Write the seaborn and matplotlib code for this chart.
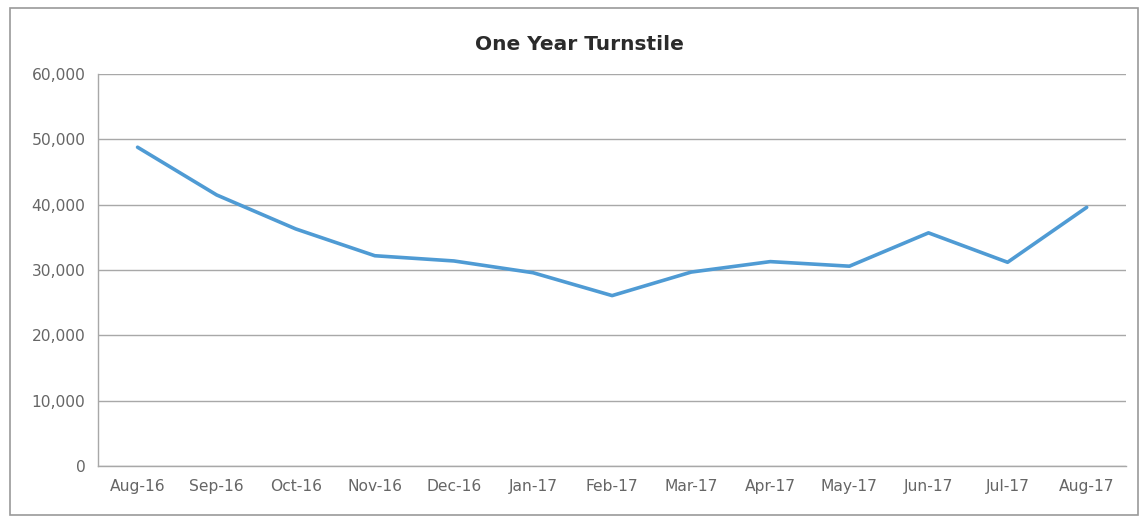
import matplotlib
matplotlib.use("Agg")
import matplotlib.pyplot as plt
import seaborn as sns
import pandas as pd
from matplotlib.patches import Rectangle
from matplotlib.ticker import FuncFormatter

months = ["Aug-16", "Sep-16", "Oct-16", "Nov-16", "Dec-16", "Jan-17", "Feb-17",
          "Mar-17", "Apr-17", "May-17", "Jun-17", "Jul-17", "Aug-17"]
turnstile = [48800, 41500, 36300, 32200, 31400, 29600, 26100,
             29700, 31300, 30600, 35700, 31200, 39600]
y_ticks = [0, 10000, 20000, 30000, 40000, 50000, 60000]

sns.set_theme(style="white")
plt.rcParams['font.family'] = ['DejaVu Sans']

df = pd.DataFrame({"Month": months, "Turnstile": turnstile})

fig = plt.figure(figsize=(11.45, 5.25), dpi=100)
ax = fig.add_axes([0.0856, 0.112, 0.898, 0.747])

sns.lineplot(data=df, x="Month", y="Turnstile", sort=False, ax=ax,
             color="#4f9bd4", linewidth=2.6)

ax.set_xlim(-0.5, len(months) - 0.5)
ax.set_ylim(0, 60000)
ax.set_yticks(y_ticks)
ax.yaxis.set_major_formatter(FuncFormatter(lambda v, p: f"{int(v):,}"))
ax.set_xlabel("")
ax.set_ylabel("")
ax.grid(axis="y", color="#a8a8a8", linewidth=1.0)
ax.grid(axis="x", visible=False)
for s in ["top", "right"]:
    ax.spines[s].set_visible(False)
for s in ["left", "bottom"]:
    ax.spines[s].set_color("#a8a8a8")
    ax.spines[s].set_linewidth(1.0)
ax.tick_params(axis="both", colors="#666666", labelsize=11.2, length=0, pad=9)
ax.set_axisbelow(True)

fig.text(0.506, 0.915, "One Year Turnstile", ha="center", va="center",
         fontsize=14.5, fontweight="bold", color="#2b2b2b")

fig.patches.append(Rectangle((0.009, 0.02), 0.985, 0.965, transform=fig.transFigure,
                             fill=False, edgecolor="#9a9a9a", linewidth=1.2))

fig.savefig("out.png", dpi=100)
